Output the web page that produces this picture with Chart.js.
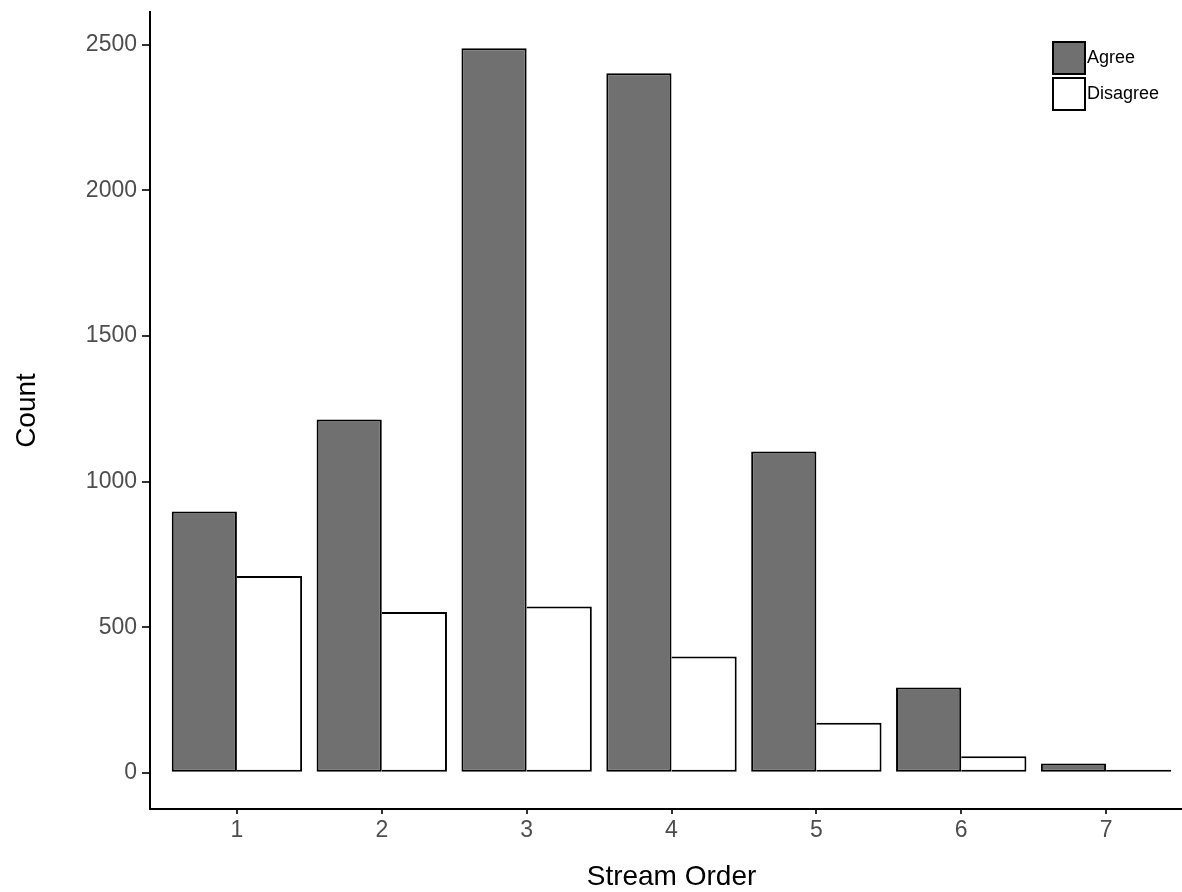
<!DOCTYPE html>
<html>
<head>
<meta charset="utf-8">
<title>Stream Order</title>
<script src="https://cdn.jsdelivr.net/npm/chart.js@4/dist/chart.umd.min.js"></script>
<style>
  html, body { margin: 0; padding: 0; background: #fff; overflow: hidden; }
  #wrap { position: relative; width: 1200px; height: 892px; }
</style>
</head>
<body>
<div id="wrap"><canvas id="chart"></canvas></div>
<script>
// Stream orders on the x axis
const streamOrders = [1, 2, 3, 4, 5, 6, 7];
// Counts per stream order
const agreeCounts = [897, 1213, 2488, 2402, 1103, 293, 32];
const disagreeCounts = [676, 552, 571, 399, 172, 57, 5];
// Series names
const seriesNames = ['Agree', 'Disagree'];
// Y axis tick values
const countTicks = [0, 500, 1000, 1500, 2000, 2500];

const FONT = "'Liberation Sans', Arial, sans-serif";
Chart.defaults.font.family = FONT;

const toPoints = vals => streamOrders.map((s, i) => ({ x: s, y: vals[i] }));

// Simple boxed legend drawn in the upper right of the plot
const boxLegend = {
  id: 'boxLegend',
  afterDraw(chart, args, opts) {
    const { ctx } = chart;
    chart.data.datasets.forEach((ds, i) => {
      const x = opts.x, y = opts.y + i * opts.step, s = opts.size;
      ctx.save();
      ctx.fillStyle = ds.backgroundColor;
      ctx.fillRect(x, y, s, s);
      ctx.lineWidth = 2;
      ctx.strokeStyle = '#000';
      ctx.strokeRect(x, y, s, s);
      ctx.fillStyle = '#000';
      ctx.font = '18px ' + FONT;
      ctx.textBaseline = 'middle';
      ctx.textAlign = 'left';
      ctx.fillText(ds.label, x + s + 2, y + s / 2);
      ctx.restore();
    });
  }
};

new Chart(document.getElementById('chart'), {
  type: 'bar',
  data: {
    datasets: [
      {
        label: seriesNames[0],
        data: toPoints(agreeCounts),
        backgroundColor: '#707070',
        borderColor: '#000',
        borderWidth: 2,
        borderSkipped: false
      },
      {
        label: seriesNames[1],
        data: toPoints(disagreeCounts),
        backgroundColor: '#ffffff',
        borderColor: '#000',
        borderWidth: { top: 2, left: 0, bottom: 2, right: 2 },
        borderSkipped: false,
        minBarLength: 3
      }
    ]
  },
  options: {
    responsive: true,
    maintainAspectRatio: false,
    animation: false,
    devicePixelRatio: 1,
    layout: { padding: { top: 12, right: 7, left: 0, bottom: 0 } },
    datasets: { bar: { categoryPercentage: 0.9, barPercentage: 1.0 } },
    plugins: {
      legend: { display: false },
      tooltip: { enabled: false },
      boxLegend: { x: 1053, y: 42, size: 32, step: 36 }
    },
    scales: {
      x: {
        type: 'linear',
        min: 0.4,
        max: 7.6,
        offset: false,
        afterBuildTicks: s => { s.ticks = streamOrders.map(v => ({ value: v })); },
        afterFit: s => { s.height = 83; s.paddingLeft = 0; s.paddingRight = 0; },
        border: { display: true, color: '#000', width: 2 },
        grid: { offset: false, drawOnChartArea: false, drawTicks: true, tickLength: 5, color: '#333', lineWidth: 2 },
        ticks: {
          padding: 3,
          color: '#4d4d4d',
          font: { size: 23, family: FONT },
          maxRotation: 0,
          autoSkip: false
        },
        title: {
          display: true,
          text: 'Stream Order',
          color: '#000',
          font: { size: 28, family: FONT, lineHeight: 1 },
          padding: { top: 0, bottom: 1 }
        }
      },
      y: {
        min: -124.4,
        max: 2612.4,
        afterBuildTicks: s => { s.ticks = countTicks.map(v => ({ value: v })); },
        afterFit: s => { s.width = 150; s.paddingTop = 0; s.paddingBottom = 0; },
        border: { display: true, color: '#000', width: 2 },
        grid: { drawOnChartArea: false, drawTicks: true, tickLength: 8, color: '#333', lineWidth: 2 },
        ticks: {
          padding: 5,
          color: '#4d4d4d',
          font: { size: 23, family: FONT },
          autoSkip: false,
          callback: v => String(v)
        },
        title: {
          display: true,
          text: 'Count',
          color: '#000',
          font: { size: 28, family: FONT, lineHeight: 1 },
          padding: { top: 13, bottom: 0 }
        }
      }
    }
  },
  plugins: [boxLegend]
});
</script>
</body>
</html>
